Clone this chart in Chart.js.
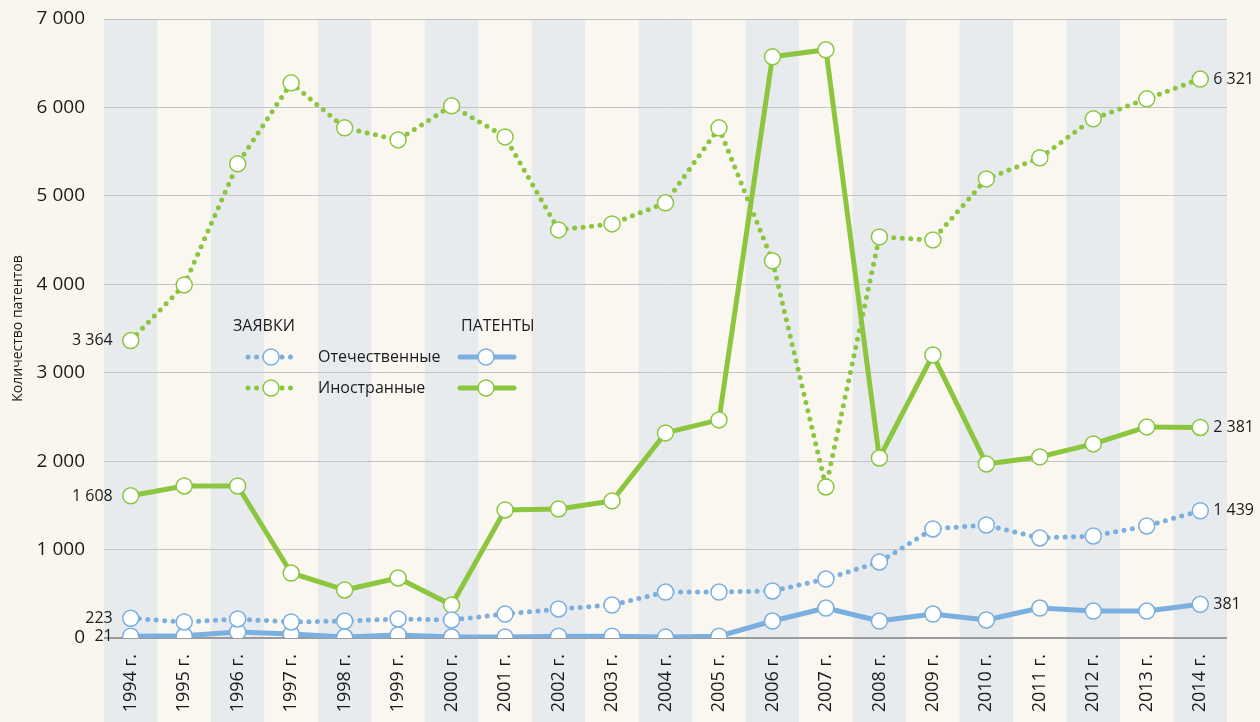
<!DOCTYPE html>
<html lang="ru">
<head>
<meta charset="utf-8">
<script src="https://cdn.jsdelivr.net/npm/chart.js@4.4.1/dist/chart.umd.min.js"></script>
<style>
  html, body { margin: 0; padding: 0; background: #f9f6ee; }
  #wrap { width: 1260px; height: 722px; }
</style>
</head>
<body>
<div id="wrap"><canvas id="chart" width="1260" height="722"></canvas></div>
<script>
const years = ["1994 г.", "1995 г.", "1996 г.", "1997 г.", "1998 г.", "1999 г.", "2000 г.",
  "2001 г.", "2002 г.", "2003 г.", "2004 г.", "2005 г.", "2006 г.", "2007 г.", "2008 г.",
  "2009 г.", "2010 г.", "2011 г.", "2012 г.", "2013 г.", "2014 г."];

// заявки
const appsDomestic = [223, 181, 215, 181, 192, 215, 204, 271, 328, 373, 520, 520, 532, 667, 860, 1233, 1278, 1131, 1154, 1267, 1439];
const appsForeign = [3364, 3993, 5362, 6278, 5769, 5633, 6018, 5667, 4615, 4683, 4921, 5769, 4265, 1708, 4536, 4502, 5192, 5430, 5871, 6097, 6321];
// патенты
const patDomestic = [21, 25, 68, 45, 11, 34, 11, 10, 20, 20, 10, 20, 192, 339, 192, 271, 204, 339, 305, 305, 381];
const patForeign = [1608, 1719, 1719, 735, 543, 679, 373, 1448, 1459, 1550, 2319, 2466, 6572, 6652, 2036, 3201, 1968, 2048, 2195, 2387, 2381];

const yTicks = [0, 1000, 2000, 3000, 4000, 5000, 6000, 7000];

const BLUE = "#7bafe0";
const GREEN = "#8cc63e";
const FONT = "'Open Sans', 'DejaVu Sans', sans-serif";
const TEXT = "#1b1b1b";

const fmt = (v) => String(v).replace(/\B(?=(\d{3})+(?!\d))/g, " ");

function lineSet(label, data, color, dotted) {
  return {
    label,
    data,
    borderColor: color,
    borderWidth: 5,
    borderDash: dotted ? [0, 8.5] : [],
    borderCapStyle: "round",
    borderJoinStyle: "round",
    pointRadius: 8,
    pointHoverRadius: 8,
    pointBackgroundColor: "#ffffff",
    pointBorderColor: color,
    pointBorderWidth: 1.5,
    tension: 0,
    fill: false,
  };
}

// полосы по годам
const stripes = {
  id: "stripes",
  beforeDraw(chart) {
    const { ctx, chartArea, scales } = chart;
    const x = scales.x;
    const w = (chartArea.right - chartArea.left) / years.length;
    ctx.save();
    years.forEach((_, i) => {
      const cx = x.getPixelForValue(i);
      ctx.fillStyle = i % 2 === 0 ? "#e8ebee" : "#faf7f0";
      ctx.fillRect(cx - w / 2, chartArea.top, w, chart.height - chartArea.top);
    });
    ctx.restore();
  },
};

// подписи первых и последних значений
const endLabels = {
  id: "endLabels",
  afterDatasetsDraw(chart) {
    const { ctx } = chart;
    ctx.save();
    ctx.fillStyle = TEXT;
    ctx.textBaseline = "middle";
    chart.data.datasets.forEach((ds, di) => {
      const meta = chart.getDatasetMeta(di);
      const first = meta.data[0];
      const last = meta.data[meta.data.length - 1];
      ctx.font = "16px " + FONT;
      ctx.textAlign = "right";
      ctx.fillText(fmt(ds.data[0]), first.x - 18, first.y + (di === 3 ? 1 : 0));
      ctx.textAlign = "left";
      ctx.fillText(fmt(ds.data[ds.data.length - 1]), last.x + 13, last.y);
    });
    ctx.restore();
  },
};

// легенда внутри графика
const customLegend = {
  id: "customLegend",
  afterDraw(chart) {
    const { ctx } = chart;
    ctx.save();
    ctx.font = "16px " + FONT;
    ctx.fillStyle = TEXT;
    ctx.textBaseline = "middle";
    ctx.textAlign = "left";
    ctx.fillText("ЗАЯВКИ", 233, 326);
    ctx.fillText("ПАТЕНТЫ", 461, 326);
    const rows = [
      { y: 357, color: BLUE, text: "Отечественные" },
      { y: 388, color: GREEN, text: "Иностранные" },
    ];
    rows.forEach((r) => {
      // пунктир
      ctx.strokeStyle = r.color;
      ctx.lineWidth = 5;
      ctx.lineCap = "round";
      ctx.setLineDash([0, 8.5]);
      ctx.beginPath();
      ctx.moveTo(248, r.y);
      ctx.lineTo(298, r.y);
      ctx.stroke();
      // сплошная
      ctx.setLineDash([]);
      ctx.beginPath();
      ctx.moveTo(460, r.y);
      ctx.lineTo(514, r.y);
      ctx.stroke();
      [271, 486].forEach((cx) => {
        ctx.beginPath();
        ctx.arc(cx, r.y, 8, 0, Math.PI * 2);
        ctx.fillStyle = "#ffffff";
        ctx.fill();
        ctx.lineWidth = 1.5;
        ctx.strokeStyle = r.color;
        ctx.stroke();
      });
      ctx.fillStyle = TEXT;
      ctx.fillText(r.text, 318, r.y);
    });
    ctx.restore();
  },
};

new Chart(document.getElementById("chart").getContext("2d"), {
  type: "line",
  data: {
    labels: years,
    datasets: [
      lineSet("Заявки: отечественные", appsDomestic, BLUE, true),
      lineSet("Заявки: иностранные", appsForeign, GREEN, true),
      lineSet("Патенты: отечественные", patDomestic, BLUE, false),
      lineSet("Патенты: иностранные", patForeign, GREEN, false),
    ],
  },
  options: {
    responsive: false,
    animation: false,
    layout: { padding: { top: 19, right: 33, left: 0, bottom: 0 } },
    plugins: {
      legend: { display: false },
      tooltip: { enabled: false },
    },
    scales: {
      x: {
        offset: true,
        grid: { display: false },
        border: { display: false },
        ticks: {
          minRotation: 90,
          maxRotation: 90,
          padding: 8,
          color: TEXT,
          font: { family: FONT, size: 18 },
        },
        afterFit(scale) { scale.height = 84; },
      },
      y: {
        min: 0,
        max: 7000,
        afterBuildTicks(scale) { scale.ticks = yTicks.map((v) => ({ value: v })); },
        grid: {
          drawTicks: true,
          tickLength: 19,
          tickColor: "rgba(0,0,0,0)",
          color: (c) => (c.tick && c.tick.value === 0 ? "#9b9b9b" : "#c4c4c4"),
          lineWidth: (c) => (c.tick && c.tick.value === 0 ? 2 : 1),
        },
        border: { display: false },
        ticks: {
          padding: 0,
          color: TEXT,
          font: { family: FONT, size: 19 },
          callback: (v) => fmt(v),
        },
        title: {
          display: true,
          text: "Количество патентов",
          color: TEXT,
          font: { family: FONT, size: 14 },
          padding: { top: 10, bottom: 0 },
        },
        afterFit(scale) { scale.width = 104; },
      },
    },
  },
  plugins: [stripes, endLabels, customLegend],
});
</script>
</body>
</html>
